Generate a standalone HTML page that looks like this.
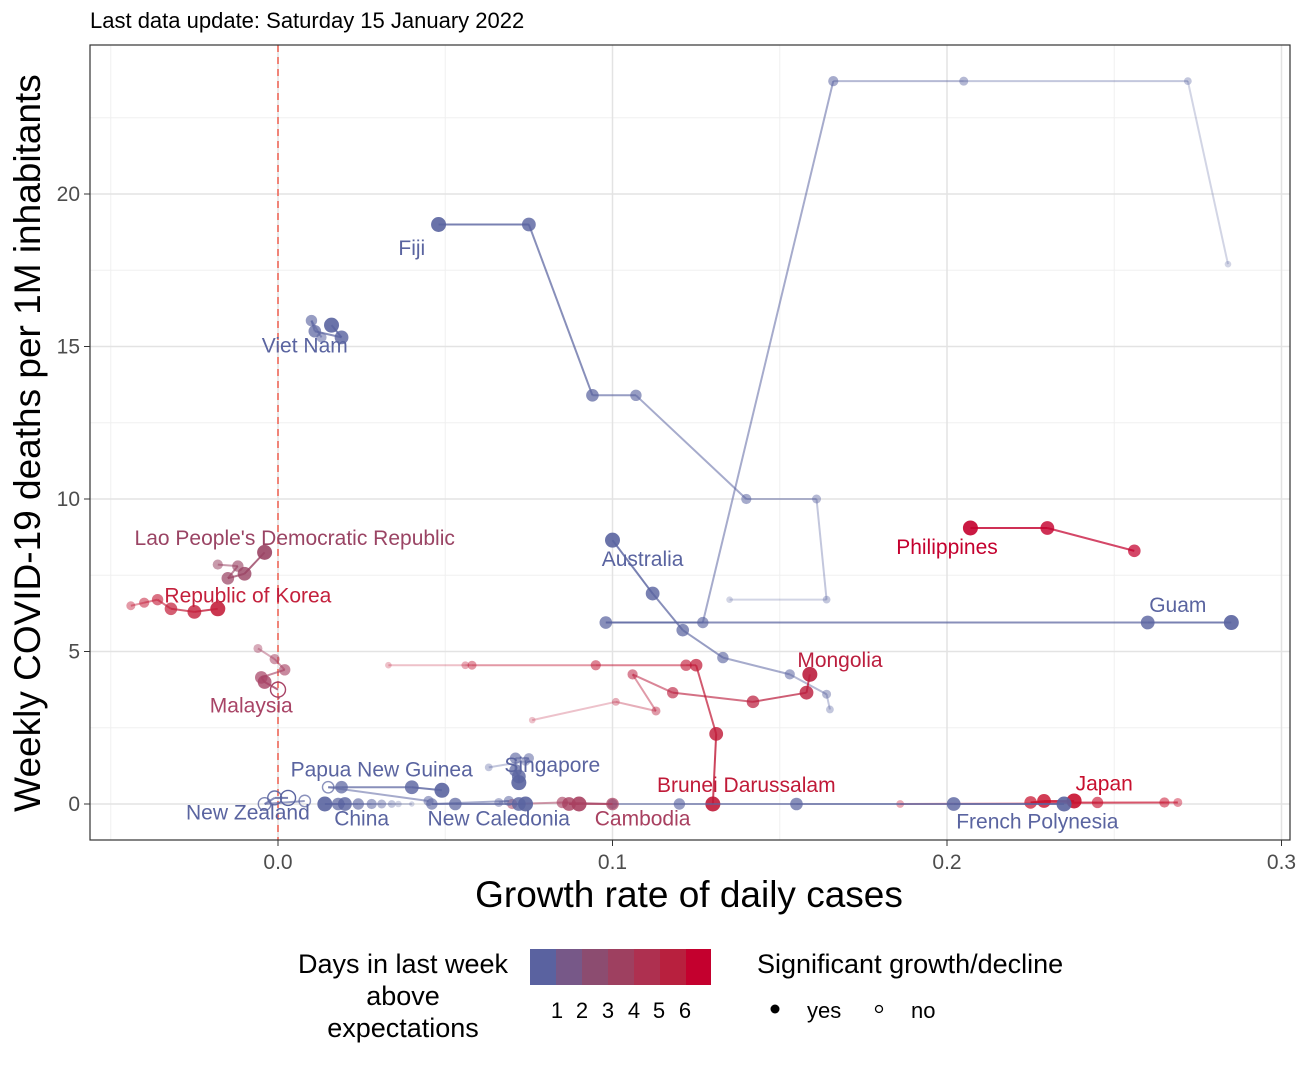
<!DOCTYPE html>
<html><head><meta charset="utf-8"><style>
body{margin:0;background:#fff;font-family:"Liberation Sans",sans-serif}
</style></head><body>
<svg id="chart" width="1299" height="1062" xmlns="http://www.w3.org/2000/svg" font-family="Liberation Sans, sans-serif">
<text x="90" y="28" font-size="22">Last data update: Saturday 15 January 2022</text>
<g id="grid"></g>
<g id="marks"></g>
<g id="labels"></g>
<rect x="90" y="45" width="1200" height="795" fill="none" stroke="#333" stroke-width="1.2"/>
<g id="axes"></g>
<text x="689" y="907" font-size="37" text-anchor="middle">Growth rate of daily cases</text>
<text transform="translate(40,443) rotate(-90)" font-size="37" text-anchor="middle">Weekly COVID-19 deaths per 1M inhabitants</text>
<g>
<text x="403" y="973" font-size="27" text-anchor="middle">Days in last week</text>
<text x="403" y="1005" font-size="27" text-anchor="middle">above</text>
<text x="403" y="1037" font-size="27" text-anchor="middle">expectations</text>
<rect x="530" y="949" width="26" height="36" fill="#5a62a0"/><rect x="556" y="949" width="26" height="36" fill="#775888"/><rect x="582" y="949" width="26" height="36" fill="#8c4c70"/><rect x="608" y="949" width="26" height="36" fill="#9e4060"/><rect x="634" y="949" width="26" height="36" fill="#ae3050"/><rect x="660" y="949" width="26" height="36" fill="#b8203e"/><rect x="686" y="949" width="25" height="36" fill="#c4002e"/>
<text x="557" y="1018" font-size="22" text-anchor="middle">1</text><text x="582" y="1018" font-size="22" text-anchor="middle">2</text><text x="608" y="1018" font-size="22" text-anchor="middle">3</text><text x="634" y="1018" font-size="22" text-anchor="middle">4</text><text x="659" y="1018" font-size="22" text-anchor="middle">5</text><text x="685" y="1018" font-size="22" text-anchor="middle">6</text>
</g>
<g>
<text x="757" y="973" font-size="27">Significant growth/decline</text>
<circle cx="775" cy="1009" r="4.5" fill="#000"/><text x="807" y="1018" font-size="22">yes</text>
<circle cx="879" cy="1009" r="3.5" fill="none" stroke="#000" stroke-width="1.3"/><text x="911" y="1018" font-size="22">no</text>
</g>
</svg>
<script>
const xTicks=[0,0.1,0.2,0.3];
const xTickLabels=["0.0","0.1","0.2","0.3"];
const yTicks=[0,5,10,15,20];
const countries=["Fiji","Guam","Australia","Viet Nam","Philippines","Mongolia","Brunei Darussalam","Lao People's Democratic Republic","Republic of Korea","Malaysia","Japan","French Polynesia","Cambodia","Singapore","Papua New Guinea","New Zealand","China","New Caledonia"];
const colors=["#5a64a0","#5a64a0","#5a64a0","#5a64a0","#c4002e","#bb1e3e","#c01a38","#9a4464","#c4203c","#a84466","#c8102e","#5a64a0","#a84060","#5a64a0","#5a64a0","#5a64a0","#5a64a0","#5a64a0"];
const xs=[
[0.048,0.075,0.094,0.107,0.14,0.161,0.164,0.135],
[0.285,0.26,0.098,0.127,0.166,0.205,0.272,0.284],
[0.1,0.112,0.121,0.133,0.153,0.164,0.165],
[0.016,0.019,0.011,0.010,0.013],
[0.207,0.23,0.256],
[0.159,0.158,0.142,0.118,0.106,0.113,0.101,0.076],
[0.13,0.131,0.125,0.122,0.095,0.058,0.056,0.033],
[-0.004,-0.010,-0.015,-0.012,-0.018],
[-0.018,-0.025,-0.032,-0.036,-0.040,-0.044],
[0.0,-0.004,-0.005,0.002,-0.001,-0.006],
[0.238,0.229,0.225,0.245,0.265,0.269,0.186],
[0.235,0.202,0.155,0.12,0.1],
[0.09,0.087,0.1,0.085,0.07],
[0.072,0.072,0.071,0.071,0.075,0.074,0.063],
[0.049,0.04,0.019,0.015,0.045],
[0.003,-0.001,-0.004,0.008],
[0.014,0.02,0.018,0.024,0.028,0.031,0.034,0.036,0.04],
[0.074,0.072,0.053,0.046,0.069,0.066]];
const ys=[
[19,19,13.4,13.4,10,10,6.7,6.7],
[5.95,5.95,5.95,5.95,23.7,23.7,23.7,17.7],
[8.65,6.9,5.7,4.8,4.25,3.6,3.1],
[15.7,15.3,15.5,15.85,15.3],
[9.05,9.05,8.3],
[4.25,3.65,3.35,3.65,4.25,3.05,3.35,2.75],
[0,2.3,4.55,4.55,4.55,4.55,4.55,4.55],
[8.25,7.55,7.4,7.8,7.85],
[6.4,6.3,6.4,6.7,6.6,6.5],
[3.75,4.0,4.15,4.4,4.75,5.1],
[0.1,0.1,0.05,0.05,0.05,0.05,0.0],
[0,0,0,0,0],
[0,0,0,0.05,0],
[0.7,0.9,1.1,1.5,1.5,1.4,1.2],
[0.45,0.55,0.55,0.55,0.1],
[0.2,0.2,0,0.1],
[0,0,0,0,0,0,0,0,0],
[0,0,0,0,0.1,0.05]];
const hollow=[[],[],[],[],[],[],[],[],[],[0],[],[],[],[],[3],[0,1,2,3],[],[]];
const labelPos=[[0.04,18],[0.269,6.3],[0.109,7.8],[0.008,14.8],[0.2,8.2],[0.168,4.5],[0.14,0.4],[0.005,8.5],[-0.009,6.6],[-0.008,3.0],[0.247,0.45],[0.227,-0.8],[0.109,-0.7],[0.082,1.05],[0.031,0.9],[-0.009,-0.5],[0.025,-0.7],[0.066,-0.7]];
const labelCol=["#5a64a0","#5a64a0","#5a64a0","#5a64a0","#c4002e","#bb1e3e","#c01a38","#9a4464","#c4203c","#a84466","#c8102e","#5a64a0","#a84060","#5a64a0","#5a64a0","#5a64a0","#5a64a0","#5a64a0"];
const X=v=>278+v*3345, Y=v=>804-v*30.5;
const NS="http://www.w3.org/2000/svg";
function mk(t,p,a){const e=document.createElementNS(NS,t);for(const k in a)e.setAttribute(k,a[k]);p.appendChild(e);return e;}
const grid=document.getElementById('grid'),axes=document.getElementById('axes'),marks=document.getElementById('marks'),labels=document.getElementById('labels');
[-0.05,0.05,0.15,0.25].forEach(v=>{const l=mk('line',grid,{x1:X(v),x2:X(v),y1:45,y2:840,stroke:'#f0f0f0','stroke-width':1});

});
[2.5,7.5,12.5,17.5,22.5].forEach(v=>{const l=mk('line',grid,{x1:90,x2:1290,y1:Y(v),y2:Y(v),stroke:'#f0f0f0','stroke-width':1});

});
xTicks.forEach((v,i)=>{const l=mk('line',grid,{x1:X(v),x2:X(v),y1:45,y2:840,stroke:'#e3e3e3','stroke-width':1.5});


mk('line',axes,{x1:X(v),x2:X(v),y1:840,y2:846,stroke:'#333'});
const t=mk('text',axes,{x:X(v),y:869,'font-size':21,'text-anchor':'middle',fill:'#4d4d4d'});t.textContent=xTickLabels[i];

});
yTicks.forEach(v=>{const l=mk('line',grid,{x1:90,x2:1290,y1:Y(v),y2:Y(v),stroke:'#e3e3e3','stroke-width':1.5});


mk('line',axes,{x1:84,x2:90,y1:Y(v),y2:Y(v),stroke:'#333'});
const t=mk('text',axes,{x:80,y:Y(v)+7,'font-size':21,'text-anchor':'end',fill:'#4d4d4d'});t.textContent=v;

});
const zl=mk('line',grid,{x1:X(0),x2:X(0),y1:45,y2:840,stroke:'#f06050','stroke-width':1.5,'stroke-dasharray':'7,5'});


countries.forEach((c,ci)=>{
 const g=mk('g',marks,{});
 
 
 const n=xs[ci].length;
 const op=i=>Math.max(0.3,1-i*0.1), rr=i=>Math.max(2,7.5-i*0.6);
 for(let i=n-1;i>0;i--){const l=mk('line',g,{x1:X(xs[ci][i]),y1:Y(ys[ci][i]),x2:X(xs[ci][i-1]),y2:Y(ys[ci][i-1]),stroke:colors[ci],'stroke-width':2,'stroke-opacity':op(i)*0.9});
  
  }
 for(let i=n-1;i>=0;i--){const h=hollow[ci].includes(i);
  const p=mk('circle',g,{cx:X(xs[ci][i]),cy:Y(ys[ci][i]),r:rr(i),fill:h?'none':colors[ci],'fill-opacity':op(i)*0.9,stroke:colors[ci],'stroke-opacity':h?op(i):0,'stroke-width':1.4});
  
  }
 const t=mk('text',labels,{x:X(labelPos[ci][0]),y:Y(labelPos[ci][1]),'font-size':21,'text-anchor':'middle',fill:labelCol[ci]});
 t.textContent=c;
 
 
});
</script>
</body></html>
